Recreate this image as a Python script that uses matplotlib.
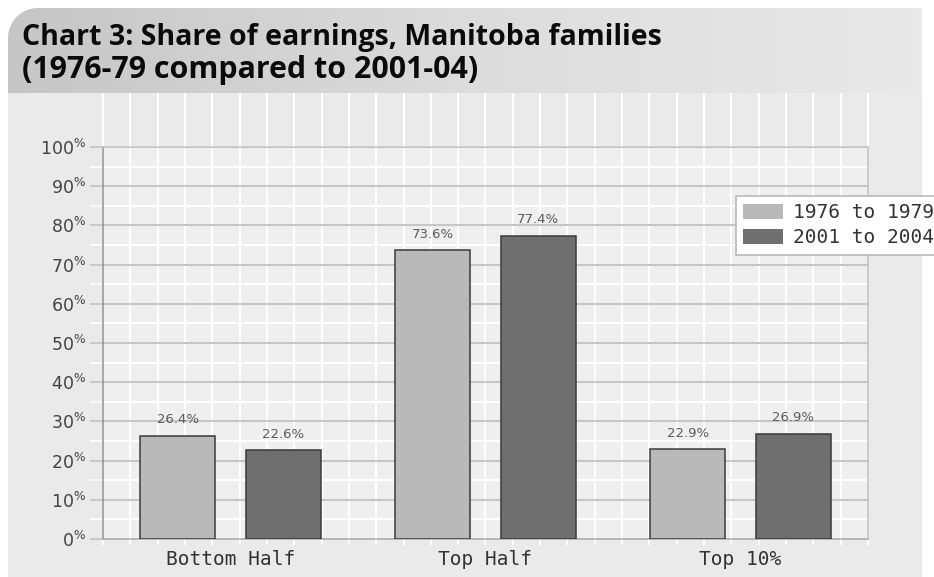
import numpy as np
import matplotlib.pyplot as plt
from matplotlib.patches import Rectangle, PathPatch, Patch
from matplotlib.path import Path
from matplotlib.colors import LinearSegmentedColormap

categories = ["Bottom Half", "Top Half", "Top 10%"]
share_1976_79 = [26.4, 73.6, 22.9]
share_2001_04 = [22.6, 77.4, 26.9]
series_names = ["1976 to 1979", "2001 to 2004"]
y_ticks = list(range(0, 101, 10))

title_lines = ["Chart 3: Share of earnings, Manitoba families",
               "(1976-79 compared to 2001-04)"]
title_widths = [641, 457]  # px each line should span

plt.rcParams["mathtext.fontset"] = "dejavusans"

W, H = 934, 577
fig = plt.figure(figsize=(W / 100, H / 100), dpi=100)
fig.patch.set_facecolor("white")


def fx(px):
    return px / W


def fy(py):
    return 1 - py / H


# grey panel behind the plot
fig.add_artist(Rectangle((fx(8), 0), (922 - 8) / W, fy(93),
                         transform=fig.transFigure, facecolor="#eaeaea",
                         edgecolor="none", zorder=0))

# header band: horizontal gradient, rounded top-left corner
hx0, hx1, hy0, hy1, r = 8, 922, 8, 93, 30
hax = fig.add_axes([fx(hx0), fy(hy1), (hx1 - hx0) / W, (hy1 - hy0) / H])
hax.set_xlim(hx0, hx1)
hax.set_ylim(hy1, hy0)
hax.axis("off")
cmap = LinearSegmentedColormap.from_list("hdr", ["#c6c6c6", "#dcdcdc", "#e9e9e9"])
im = hax.imshow(np.linspace(0, 1, 256).reshape(1, -1), cmap=cmap, aspect="auto",
                extent=(hx0, hx1, hy1, hy0))
t = np.linspace(np.pi, np.pi / 2, 24)
arc = list(zip(hx0 + r + r * np.cos(t), hy0 + r - r * np.sin(t)))
verts = [(hx0, hy1)] + arc + [(hx1, hy0), (hx1, hy1), (hx0, hy1)]
clip = PathPatch(Path(verts), transform=hax.transData, facecolor="none", edgecolor="none")
hax.add_patch(clip)
im.set_clip_path(clip)

# title lines, each scaled to its target width
renderer = fig.canvas.get_renderer()
for i, (line, wpx) in enumerate(zip(title_lines, title_widths)):
    tt = fig.text(fx(22), fy(45 + 33 * i), line, fontsize=20, fontweight="bold",
                  family="Open Sans", color="#0a0a0a", va="baseline")
    tt.set_fontsize(20 * wpx / tt.get_window_extent(renderer).width)

# plot area
ax = fig.add_axes([fx(103), fy(539), (868 - 103) / W, (539 - 147) / H])
ax.set_facecolor("#efefef")
ax.set_xlim(-0.5, 2.5)
ax.set_ylim(0, 100)

x = np.arange(len(categories))
bw, off = 0.294, 0.206

# white vertical rules, running up into the panel above the plot
xv = -0.5 + np.arange(29) * 3 / 28
ax.vlines(xv, -0.016, 1.138, transform=ax.get_xaxis_transform(), colors="white",
          lw=1.5, clip_on=False, zorder=0.5)
for v in range(5, 100, 10):
    ax.axhline(v, color="white", lw=1.5, zorder=0.6)
for v in y_ticks[1:]:
    ax.axhline(v, color="#c6c6c6", lw=1.5, zorder=0.7)

ax.bar(x - off, share_1976_79, bw, color="#b9b9b9", edgecolor="#3a3a3a", lw=1.1, zorder=3)
ax.bar(x + off, share_2001_04, bw, color="#6f6f6f", edgecolor="#3a3a3a", lw=1.1, zorder=3)

for xs, vals in ((x - off, share_1976_79), (x + off, share_2001_04)):
    for xi, v in zip(xs, vals):
        ax.annotate(f"{v}%", (xi, v), xytext=(0, 11.5), textcoords="offset points",
                    ha="center", va="center", fontsize=9.5, color="#5a5a5a")

ax.set_yticks(y_ticks)
ax.set_yticklabels([f"{v}$^{{\\%}}$" for v in y_ticks])
ax.set_yticks(range(5, 100, 10), minor=True)
ax.tick_params(axis="y", which="major", length=9.4, width=1.1, color="#c0c0c0",
               pad=2.9, labelsize=12.5, labelcolor="#444444")
ax.tick_params(axis="y", which="minor", length=9.4, width=1.1, color="white")

ax.set_xticks(x)
ax.set_xticklabels(categories, family="DejaVu Sans Mono", fontsize=14, color="#333333")
ax.tick_params(axis="x", length=0, pad=8)

ax.spines["left"].set_color("#8e8e8e")
ax.spines["bottom"].set_color("#a8a8a8")
ax.spines["top"].set_color("#c6c6c6")
ax.spines["right"].set_color("#bcbcbc")
for s in ax.spines.values():
    s.set_linewidth(1.1)

handles = [Patch(facecolor="#b9b9b9"), Patch(facecolor="#6f6f6f")]
leg = fig.legend(handles, series_names, loc="upper left",
                 bbox_to_anchor=(fx(736), fy(196)), borderaxespad=0,
                 prop={"family": "DejaVu Sans Mono", "size": 14},
                 frameon=True, fancybox=False, framealpha=1, facecolor="white",
                 edgecolor="#b4b4b4", borderpad=0.38, handlelength=2.05,
                 handleheight=0.78, handletextpad=0.5, labelspacing=0.3)
for txt in leg.get_texts():
    txt.set_color("#333333")
leg.get_frame().set_linewidth(1.1)

fig.savefig("out.png", dpi=100)
